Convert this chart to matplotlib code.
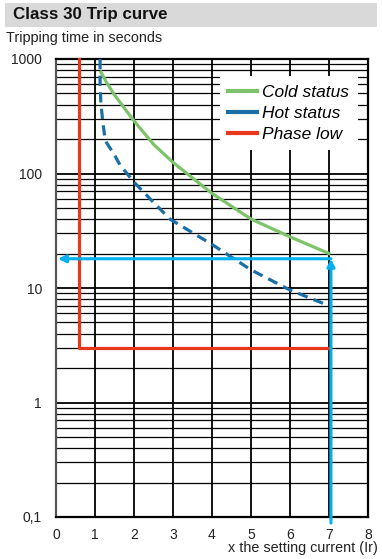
import matplotlib.pyplot as plt
from matplotlib.patches import Rectangle

plt.rcParams['font.family'] = ['Liberation Sans', 'DejaVu Sans']

# データ
cold_x = [1.15, 1.3, 1.5, 2.0, 2.5, 3.0, 4.0, 5.0, 6.0, 7.0]
cold_y = [770, 620, 485, 288, 180, 125, 67, 40, 28, 20]

hot_x = [1.13, 1.13, 1.15, 1.2, 1.256, 1.3, 1.5, 1.64, 2.0, 2.5, 2.92, 4.0, 5.0, 6.0, 7.0]
hot_y = [1000, 593, 420, 280, 204, 185, 145, 119, 84, 56, 40, 24, 14.4, 9.6, 7.0]

phase_x = [0.59, 0.59, 7.0]
phase_y = [1000, 3, 3]

marker_x = 7.05
marker_t = 18

y_ticks = [0.1, 1, 10, 100, 1000]
y_labels = ['0,1', '1', '10', '100', '1000']
x_ticks = list(range(0, 9))

fig = plt.figure(figsize=(3.82, 5.59), dpi=100)
ax = fig.add_axes([56 / 382, 1 - 517 / 559, 312 / 382, 458 / 559])

# タイトル帯
fig.patches.append(Rectangle((5 / 382, 1 - 27 / 559), 372 / 382, 24 / 559,
                             transform=fig.transFigure, facecolor='#d9d9d9',
                             edgecolor='none', zorder=0))
fig.text(13 / 382, 1 - 15 / 559, 'Class 30 Trip curve', fontsize=12.2,
         fontweight='bold', va='center', ha='left', color='#111111')
fig.text(6 / 382, 1 - 38 / 559, 'Tripping time in seconds', fontsize=10.4,
         va='center', ha='left', color='#222222')

ax.set_yscale('log')
ax.set_xlim(0, 8)
ax.set_ylim(0.1, 1000)

# グリッド
ax.grid(True, which='major', color='black', linewidth=1.3)
ax.grid(True, which='minor', axis='y', color='black', linewidth=0.9)
ax.set_xticks(x_ticks)
ax.set_yticks(y_ticks)
ax.set_yticklabels(y_labels)
ax.tick_params(which='both', length=0, labelsize=10, colors='#222222')
ax.tick_params(axis='x', pad=8)
ax.tick_params(axis='y', pad=10)
for s in ax.spines.values():
    s.set_linewidth(1.6)
    s.set_color('black')
ax.spines['left'].set_color('#555555')

# 曲線
ax.plot(cold_x, cold_y, color='#7cc36a', linewidth=2.3, label='Cold status', zorder=4)
ax.plot(hot_x, hot_y, color='#1a6fa5', linewidth=2.3, linestyle=(0, (3.2, 2)), zorder=4)
ax.plot(phase_x, phase_y, color='#e8381c', linewidth=2.3, zorder=4, clip_on=False)
ax.plot([], [], color='#1a6fa5', linewidth=2.3, label='Hot status')
ax.plot([], [], color='#e8381c', linewidth=2.3, label='Phase low')

# 矢印
ax.annotate('', xy=(0.05, marker_t), xytext=(marker_x, marker_t),
            arrowprops=dict(arrowstyle='-|>', color='#00b0f0', lw=2.2,
                            mutation_scale=11, shrinkA=0, shrinkB=0), zorder=5)
ax.annotate('', xy=(marker_x, marker_t), xytext=(marker_x, 0.0886),
            arrowprops=dict(arrowstyle='-|>', color='#00b0f0', lw=2.2,
                            mutation_scale=11, shrinkA=0, shrinkB=0),
            annotation_clip=False, zorder=5)

handles, labels = ax.get_legend_handles_labels()
leg = ax.legend(handles, labels, loc='upper right', bbox_to_anchor=(0.968, 0.962),
                prop={'style': 'italic', 'size': 12.5}, frameon=True,
                facecolor='white', edgecolor='none', framealpha=1, fancybox=False,
                handlelength=1.65, handletextpad=0.3, labelspacing=0.32,
                borderpad=0.5, borderaxespad=0)
leg.set_zorder(6)
for line in leg.get_lines():
    line.set_linewidth(3)

fig.text(378 / 382, 1 - 548 / 559, 'x the setting current (Ir)', fontsize=10.4,
         ha='right', va='center', color='#222222')

plt.savefig('out.png', dpi=100)
